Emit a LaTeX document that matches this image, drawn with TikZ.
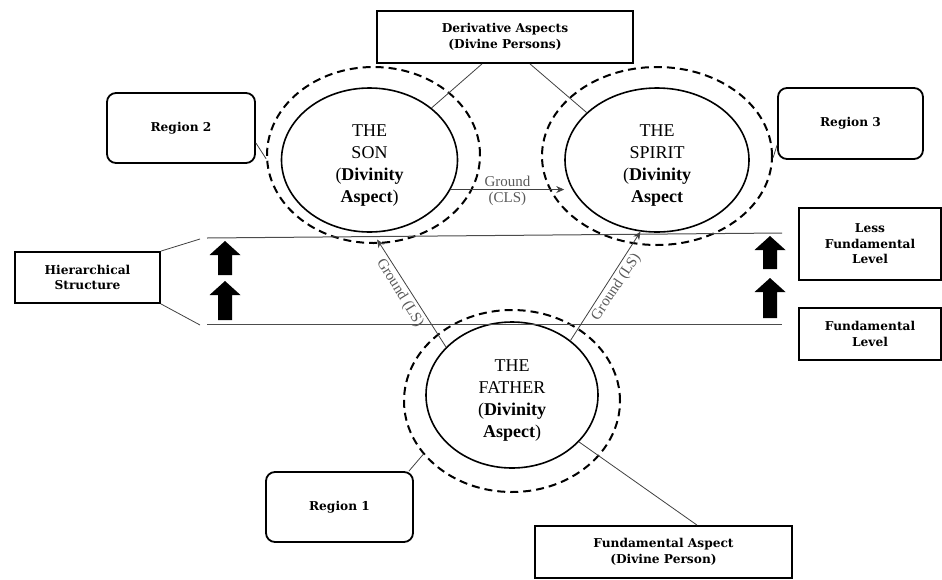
\documentclass[tikz,border=0pt]{standalone}
\usepackage{fontspec}
\setmainfont{Liberation Serif}
\newfontfamily\boxfont{DejaVu Serif}
\usetikzlibrary{shapes.geometric,arrows.meta}

% solid block arrow pointing up: centre x, tip y, base y
\newcommand\blockup[3]{%
  \fill ({#1-7},#3) -- ({#1-7},{#2+14}) -- ({#1-15.5},{#2+14}) -- (#1,#2)
        -- ({#1+15.5},{#2+14}) -- ({#1+7},{#2+14}) -- ({#1+7},#3) -- cycle;}
% extra room above the first line of a person's caption
\newcommand\capstrut{\rule{0pt}{22pt}}

\begin{document}
\begin{tikzpicture}[x=1pt,y=-1pt,
  person/.style={draw, ellipse, line width=1.6pt, inner sep=0pt, align=center,
    font=\fontsize{18}{22}\selectfont},
  region/.style={draw, ellipse, line width=2pt, dash pattern=on 8pt off 5pt},
  tag/.style={draw, line width=1.8pt, align=center, inner sep=2pt,
    font=\boxfont\bfseries\fontsize{12.2}{15.5}\selectfont},
  roundtag/.style={tag, rounded corners=9pt},
  link/.style={line width=0.8pt, draw=black!75},
  ground/.style={link, -{Stealth[length=8pt,width=7pt]}},
  gtext/.style={font=\fontsize{15}{17}\selectfont, text=black!65, inner sep=2.5pt},
  level/.style={line width=1pt, draw=black!70}
]
\useasboundingbox (0,0) rectangle (942,579);

% the three persons and their regions
\node[person, minimum width=176, minimum height=144] (son) at (369.5,160)
  {\capstrut THE\\SON\\(\textbf{Divinity}\\\textbf{Aspect})};
\node[person, minimum width=184, minimum height=144] (spirit) at (657,160)
  {\capstrut THE\\SPIRIT\\(\textbf{Divinity}\\\textbf{Aspect}};
\node[person, minimum width=172, minimum height=146] (father) at (512,395)
  {\capstrut THE\\FATHER\\(\textbf{Divinity}\\\textbf{Aspect})};
\node[region, minimum width=213, minimum height=176] (sonD) at (373.5,155) {};
\node[region, minimum width=230, minimum height=178] (spiritD) at (657,156) {};
\node[region, minimum width=216, minimum height=182] (fatherD) at (512,401) {};

% labels
\node[tag, minimum width=256, minimum height=52] (deriv) at (505,37)
  {Derivative Aspects\\(Divine Persons)};
\node[tag, minimum width=257, minimum height=52] (fund) at (663.5,552)
  {Fundamental Aspect\\(Divine Person)};
\node[roundtag, minimum width=148, minimum height=70] (r2) at (181,128) {Region 2};
\node[roundtag, minimum width=145, minimum height=71] (r3) at (850.5,123.5) {Region 3};
\node[roundtag, minimum width=147, minimum height=70] (r1) at (339.5,507) {Region 1};
\node[tag, minimum width=145, minimum height=51] (hs) at (87.5,277.5)
  {Hierarchical\\Structure};
\node[tag, minimum width=142, minimum height=72] (lfl) at (870,244)
  {Less\\Fundamental\\Level};
\node[tag, minimum width=142, minimum height=52] (fl) at (870,334)
  {Fundamental\\Level};

% level boundaries
\coordinate (lt1) at (207,238);
\coordinate (lt2) at (782,233);
\coordinate (lb1) at (207,324);
\coordinate (lb2) at (782,324);
\coordinate (hsT) at (200,239);
\coordinate (hsB) at (200,325);
\draw[level] (lt1) -- (lt2);
\draw[level] (lb1) -- (lb2);
\draw[link] (hs.north east) -- (hsT);
\draw[link] (hs.south east) -- (hsB);

\blockup{225}{241}{275}
\blockup{225}{281}{320}
\blockup{770}{236}{269}
\blockup{770}{278}{318}

% label connectors
\draw[link] ([xshift=-23pt]deriv.south) -- (son.40);
\draw[link] ([xshift=25pt]deriv.south) -- (spirit.146);
\draw[link] ([yshift=-15pt]r2.east) -- (sonD.182);
\draw[link] ([yshift=-21.5pt]r3.west) -- (spiritD.-1);
\draw[link] ([xshift=-5pt]r1.north east) -- (fatherD.211);
\draw[link] (father.-35) -- ([xshift=33.5pt]fund.north);

% grounding relations
\draw[ground] (son.-20) -- (son.-20 -| spirit.west)
  node[midway, above, gtext] {Ground}
  node[midway, below, gtext] {(CLS)};
\draw[ground] (father.144) -- ([yshift=-7pt]son.-84)
  node[pos=0.55, rotate=-58.5, anchor=north, gtext] {Ground (LS)};
\draw[ground] (father.43) -- (spirit.257)
  node[pos=0.54, rotate=56.5, anchor=north, gtext] {Ground (LS)};
\end{tikzpicture}
\end{document}
